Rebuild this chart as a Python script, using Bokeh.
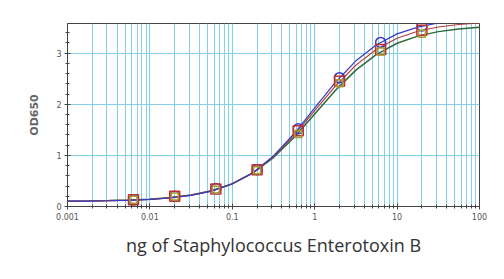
from bokeh.plotting import figure
from bokeh.models import (FixedTicker, SingleIntervalTicker, CustomJSTickFormatter,
                          Range1d)
from bokeh.embed import file_html
from bokeh.resources import INLINE

# measured points (ng of SEB)
dose = [0.00632, 0.02, 0.0632, 0.2, 0.632, 2.0, 6.32, 20.0]
od_blue = [0.13, 0.20, 0.35, 0.72, 1.52, 2.52, 3.21, 3.53]
od_red = [0.13, 0.20, 0.34, 0.72, 1.48, 2.45, 3.07, 3.45]
od_olive = [0.13, 0.196, 0.33, 0.71, 1.42, 2.41, 3.03, 3.38]

# fitted curves at quarter-decade steps
curve_x = [0.001, 0.00178, 0.00316, 0.00562, 0.01, 0.0178, 0.0316, 0.0562,
           0.1, 0.178, 0.316, 0.562, 1.0, 1.78, 3.16, 5.62, 10.0, 17.8,
           31.6, 56.2, 100.0]
curve_green = [0.105, 0.109, 0.115, 0.125, 0.143, 0.174, 0.225, 0.309,
               0.446, 0.656, 0.957, 1.351, 1.809, 2.268, 2.668, 2.977,
               3.193, 3.333, 3.421, 3.474, 3.505]
curve_red = [0.104, 0.108, 0.113, 0.123, 0.141, 0.170, 0.221, 0.306,
             0.444, 0.661, 0.977, 1.393, 1.874, 2.353, 2.766, 3.078,
             3.291, 3.428, 3.511, 3.561, 3.590]
curve_blue = [0.104, 0.107, 0.112, 0.121, 0.138, 0.166, 0.216, 0.301,
              0.441, 0.662, 0.989, 1.423, 1.927, 2.426, 2.850, 3.165,
              3.377, 3.510, 3.590]

x_ticks = [0.001, 0.01, 0.1, 1, 10, 100]
x_title = "ng of Staphylococcus Enterotoxin B"
y_title = "OD650"

p = figure(width=496, height=271, x_axis_type="log",
           x_range=Range1d(0.001, 100), y_range=Range1d(0, 3.58),
           output_backend="svg", toolbar_location=None,
           min_border_left=67, min_border_right=17,
           min_border_top=23, min_border_bottom=65)
p.background_fill_color = "white"
p.border_fill_color = "white"
p.outline_line_color = "#444444"
p.outline_line_width = 1

minor = [m * 10.0 ** e for e in range(-3, 2) for m in range(2, 10)]
p.xaxis.ticker = FixedTicker(ticks=x_ticks, minor_ticks=minor)
p.xaxis.formatter = CustomJSTickFormatter(code="return tick.toString();")
p.yaxis.ticker = SingleIntervalTicker(interval=1, num_minor_ticks=5)

for ax in (p.xaxis, p.yaxis):
    ax.axis_line_color = "#444444"
    ax.major_tick_line_color = "#444444"
    ax.minor_tick_line_color = "#444444"
    ax.major_tick_in = 3
    ax.major_tick_out = 3
    ax.minor_tick_in = 2
    ax.minor_tick_out = 2
    ax.major_label_text_font = "DejaVu Sans"
    ax.major_label_text_font_size = "8px"
    ax.major_label_text_color = "#555555"
    ax.major_label_standoff = 3

p.xaxis.axis_label = x_title
p.xaxis.axis_label_text_font = "Open Sans"
p.xaxis.axis_label_text_font_style = "normal"
p.xaxis.axis_label_text_font_size = "18px"
p.xaxis.axis_label_text_color = "#333333"
p.xaxis.axis_label_standoff = 10

p.yaxis.axis_label = y_title
p.yaxis.axis_label_text_font = "DejaVu Sans"
p.yaxis.axis_label_text_font_style = "bold"
p.yaxis.axis_label_text_font_size = "11px"
p.yaxis.axis_label_text_color = "#666666"
p.yaxis.axis_label_standoff = 12

grid_col = "#86cfe8"
p.xgrid.ticker = p.xaxis.ticker
p.xgrid.grid_line_color = grid_col
p.xgrid.grid_line_width = 1.2
p.xgrid.minor_grid_line_color = grid_col
p.xgrid.minor_grid_line_width = 1
p.ygrid.grid_line_color = grid_col
p.ygrid.grid_line_width = 1.2

p.line(curve_x, curve_green, line_color="#2f6a3a", line_width=1.5)
p.line(curve_x, curve_red, line_color="#b83a3a", line_width=1.2)
p.line(curve_x[:len(curve_blue)], curve_blue, line_color="#3838c8", line_width=1.2)

p.scatter(dose, od_blue, marker="circle", size=10, fill_color=None,
          line_color="#3838c8", line_width=1.5)
p.scatter(dose, od_red, marker="square", size=10, fill_color=None,
          line_color="#c03030", line_width=1.5)
p.scatter(dose, od_olive, marker="square", size=7, fill_color=None,
          line_color="#a89a30", line_width=1.5)

open("out.html", "w").write(file_html(p, INLINE))
